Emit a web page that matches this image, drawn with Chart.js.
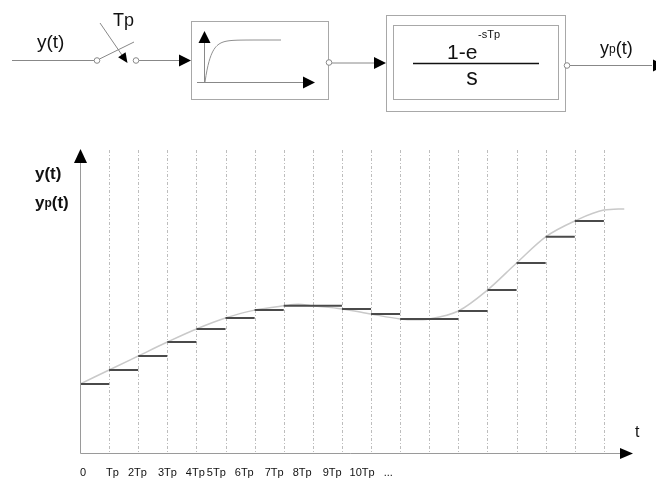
<!DOCTYPE html>
<html>
<head>
<meta charset="utf-8">
<script src="https://cdn.jsdelivr.net/npm/chart.js@4/dist/chart.umd.min.js"></script>
<style>
html,body{margin:0;padding:0;background:#fff;}
#c{display:block;}
</style>
</head>
<body>
<canvas id="c" width="656" height="480"></canvas>
<script>
// ---- data ----
const sampleValues = [22.7, 27.3, 31.9, 36.5, 40.8, 44.4, 47.0, 48.4, 48.4, 47.4, 45.7, 44.1, 44.1, 46.7, 53.6, 62.5, 71.1, 76.3];
const curveTimes  = [0, 1, 2, 3, 4, 5, 6, 7, 7.5, 8, 9, 10, 11, 11.5, 12, 13, 14, 15, 16, 17, 18, 18.7];
const curveValues = [22.7, 27.3, 31.9, 36.5, 40.8, 44.4, 47.0, 48.4, 48.9, 48.4, 47.4, 45.7, 44.1, 43.8, 44.1, 46.7, 53.6, 62.5, 71.1, 76.3, 79.9, 80.3];
const gridTimes = [1,2,3,4,5,6,7,8,9,10,11,12,13,14,15,16,17,18];
const tickLabels = ['0', 'Tp', '2Tp', '3Tp', '4Tp', '5Tp', '6Tp', '7Tp', '8Tp', '9Tp', '10Tp', '...'];

const FONT = '"Liberation Sans", Arial, Helvetica, sans-serif';

// build datasets
const stepData = [];
sampleValues.forEach((v, i) => {
  stepData.push({x: i, y: v});
  stepData.push({x: i + 1, y: v});
  stepData.push({x: i + 1, y: null});
});
const curveData = curveTimes.map((t, i) => ({x: t, y: curveValues[i]}));

function arrowHead(ctx, x1, y1, x2, y2, len, half) {
  const a = Math.atan2(y2 - y1, x2 - x1);
  const bx = x2 - len * Math.cos(a), by = y2 - len * Math.sin(a);
  const nx = -Math.sin(a) * half, ny = Math.cos(a) * half;
  ctx.beginPath();
  ctx.moveTo(x2, y2);
  ctx.lineTo(bx + nx, by + ny);
  ctx.lineTo(bx - nx, by - ny);
  ctx.closePath();
  ctx.fillStyle = '#000';
  ctx.fill();
}
function line(ctx, x1, y1, x2, y2, color, w) {
  ctx.beginPath();
  ctx.moveTo(x1, y1);
  ctx.lineTo(x2, y2);
  ctx.strokeStyle = color;
  ctx.lineWidth = w || 1;
  ctx.stroke();
}
function circle(ctx, x, y, r) {
  ctx.beginPath();
  ctx.arc(x, y, r, 0, Math.PI * 2);
  ctx.fillStyle = '#fff';
  ctx.fill();
  ctx.strokeStyle = '#888';
  ctx.lineWidth = 1;
  ctx.stroke();
}
function yLabel(ctx, x, y, size, subSize, weight) {
  // draws "y" + small "p" + "(t)"
  ctx.font = weight + ' ' + size + 'px ' + FONT;
  ctx.fillText('y', x, y);
  let cx = x + ctx.measureText('y').width;
  ctx.font = weight + ' ' + subSize + 'px ' + FONT;
  ctx.fillText('p', cx, y - 1);
  cx += ctx.measureText('p').width;
  ctx.font = weight + ' ' + size + 'px ' + FONT;
  ctx.fillText('(t)', cx, y);
}

const gridPlugin = {
  id: 'gridPlugin',
  beforeDatasetsDraw(chart) {
    const {ctx, chartArea: a, scales: {x}} = chart;
    ctx.save();
    ctx.setLineDash([3, 2, 1, 2]);
    gridTimes.forEach(t => {
      const px = Math.round(x.getPixelForValue(t)) + 0.5;
      line(ctx, px, a.top + 1, px, a.bottom, '#bdbdbd', 1);
    });
    ctx.restore();
  },
  afterDraw(chart) {
    const {ctx, chartArea: a, scales: {x, y}} = chart;
    ctx.save();
    ctx.setLineDash([]);
    // axes
    const x0 = Math.round(x.getPixelForValue(0)) + 0.5;
    const y0 = Math.round(y.getPixelForValue(0)) + 0.5;
    line(ctx, x0, y0, x0, a.top + 14, '#9a9a9a', 1);
    arrowHead(ctx, x0, y0, x0, a.top, 14, 6.5);
    line(ctx, x0, y0, a.right - 13, y0, '#9a9a9a', 1);
    arrowHead(ctx, x0, y0, a.right, y0, 13, 5.5);

    ctx.fillStyle = '#111';
    ctx.textBaseline = 'alphabetic';
    ctx.textAlign = 'left';
    ctx.font = '16px ' + FONT;
    ctx.fillText('t', a.right + 2, 437);

    // y-axis labels
    ctx.font = 'bold 17px ' + FONT;
    ctx.fillText('y(t)', 35, 179);
    yLabel(ctx, 35, 208, 17, 12, 'bold');

    // tick labels under the axis
    ctx.font = '11px ' + FONT;
    const gaps = [20, 9, 11, 9, 2, 9, 11, 9, 11, 8, 9];
    let cx = x0 - 0.5;
    tickLabels.forEach((lab, i) => {
      ctx.fillText(lab, cx, 476);
      cx += ctx.measureText(lab).width + (gaps[i] || 0);
    });

    // ---- block diagram ----
    // input line & switch
    line(ctx, 12, 60.5, 94, 60.5, '#888', 1);
    circle(ctx, 97, 60.5, 2.8);
    line(ctx, 99.5, 59, 134, 42, '#888', 1);
    line(ctx, 100, 23, 124, 58, '#888', 1);
    arrowHead(ctx, 100, 23, 127.5, 63, 10, 4.5);
    circle(ctx, 136, 60.5, 2.8);
    line(ctx, 139, 60.5, 180, 60.5, '#888', 1);
    arrowHead(ctx, 139, 60.5, 191, 60.5, 12, 6);
    ctx.fillStyle = '#111';
    ctx.font = '19px ' + FONT;
    ctx.fillText('y(t)', 37, 48);
    ctx.font = '18px ' + FONT;
    ctx.fillText('Tp', 113, 26);

    // box 1 (step response)
    ctx.strokeStyle = '#a8a8a8';
    ctx.lineWidth = 1;
    ctx.strokeRect(191.5, 21.5, 137, 78);
    line(ctx, 204.5, 82, 204.5, 42, '#888', 1);
    arrowHead(ctx, 204.5, 82, 204.5, 31, 12, 6);
    line(ctx, 197, 82.5, 303, 82.5, '#888', 1);
    arrowHead(ctx, 197, 82.5, 315, 82.5, 12, 6);
    ctx.beginPath();
    for (let px = 205; px <= 281; px += 1) {
      const py = 82 - 42 * (1 - Math.exp(-(px - 205) / 6));
      if (px === 205) ctx.moveTo(px, py); else ctx.lineTo(px, py);
    }
    ctx.strokeStyle = '#909090';
    ctx.lineWidth = 1;
    ctx.stroke();
    circle(ctx, 329, 62.5, 2.8);
    line(ctx, 332, 63, 374, 63, '#888', 1);
    arrowHead(ctx, 332, 63, 386, 63, 12, 6);

    // box 2 (hold element)
    ctx.strokeStyle = '#a8a8a8';
    ctx.strokeRect(386.5, 15.5, 179, 96);
    ctx.strokeRect(393.5, 25.5, 165, 74);
    line(ctx, 413, 63.5, 539, 63.5, '#111', 1.5);
    ctx.fillStyle = '#111';
    ctx.font = '21px ' + FONT;
    ctx.fillText('1-e', 447, 59);
    ctx.font = '11px ' + FONT;
    ctx.fillText('-sTp', 478, 38);
    ctx.font = '23px ' + FONT;
    ctx.textAlign = 'center';
    ctx.fillText('s', 472, 85);
    ctx.textAlign = 'left';
    circle(ctx, 567, 65.5, 2.8);
    line(ctx, 570, 65.5, 652, 65.5, '#888', 1);
    arrowHead(ctx, 570, 65.5, 665, 65.5, 12, 6);
    ctx.fillStyle = '#111';
    yLabel(ctx, 600, 54, 18, 12, 'normal');
    ctx.restore();
  }
};

new Chart(document.getElementById('c'), {
  type: 'line',
  data: {
    datasets: [
      {
        label: 'yp(t)',
        data: stepData,
        borderColor: '#4a4a4a',
        borderWidth: 2,
        pointRadius: 0,
        spanGaps: false,
        tension: 0
      },
      {
        label: 'y(t)',
        data: curveData,
        borderColor: '#c9c9c9',
        borderWidth: 1.5,
        pointRadius: 0,
        cubicInterpolationMode: 'monotone'
      }
    ]
  },
  options: {
    responsive: false,
    animation: false,
    events: [],
    layout: {padding: {left: 80, right: 23, top: 149, bottom: 27}},
    plugins: {legend: {display: false}, tooltip: {enabled: false}},
    scales: {
      x: {type: 'linear', min: 0, max: 19, display: false},
      y: {type: 'linear', min: 0, max: 100, display: false}
    }
  },
  plugins: [gridPlugin]
});
</script>
</body>
</html>
